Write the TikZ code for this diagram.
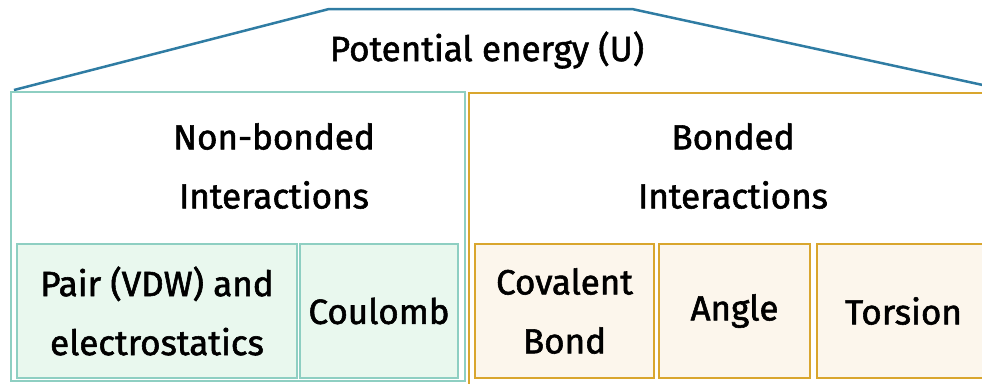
\documentclass[tikz,border=0pt]{standalone}
\usepackage{fontspec}
\setmainfont{Fira Sans}[FakeBold=1.6]
\definecolor{roofblue}{HTML}{2F7CA3}
\definecolor{tealline}{HTML}{8ECFC2}
\definecolor{goldline}{HTML}{D9A62E}
\definecolor{greenfill}{HTML}{E9F8EE}
\definecolor{creamfill}{HTML}{FCF6EC}
\tikzset{
  groupbox/.style={draw=#1, line width=2.5pt, fill=white},
  termbox/.style={draw, line width=2.5pt, minimum height=134pt, align=center, inner sep=0pt},
  label text/.style={align=center},
}
\begin{document}
\begin{tikzpicture}[x=1pt, y=-1pt, font=\fontsize{35}{59}\selectfont]
  \useasboundingbox (0,0) rectangle (982,383);

  % 屋根
  \coordinate (roofL) at (14,90);
  \coordinate (roofTL) at (329,9);
  \coordinate (roofTR) at (632,9);
  \coordinate (roofR) at (992,87);
  \draw[roofblue, line width=2.5pt, line join=round] (roofL) -- (roofTL) -- (roofTR) -- (roofR);
  \node (pot) at (487,50) {Potential\ energy (U)};

  % 大きい箱
  \node[groupbox=tealline, minimum width=454pt, minimum height=289pt] (lbox) at (238,236.5) {};
  \node[groupbox=goldline, minimum width=522pt, minimum height=296pt] (rbox) at (730,241) {};
  \node[label text] (nonbonded) at (274,166) {Non-bonded\\Interactions};
  \node[label text] (bonded) at (733,166) {Bonded\\Interactions};

  % 小さい箱
  \node[termbox, draw=tealline, fill=greenfill, minimum width=280pt] (pair) at (157,311) {Pair (VDW) and\\electrostatics};
  \node[termbox, draw=tealline, fill=greenfill, minimum width=158pt] (coulomb) at (379,311) {Coulomb};
  \node[termbox, draw=goldline, fill=creamfill, minimum width=179pt] (covalent) at (564.5,311) {Covalent\\Bond};
  \node[termbox, draw=goldline, fill=creamfill, minimum width=151pt] (angle) at (734.5,311) {Angle};
  \node[termbox, draw=goldline, fill=creamfill, minimum width=173pt] (torsion) at (903.5,311) {Torsion};
\end{tikzpicture}
\end{document}
